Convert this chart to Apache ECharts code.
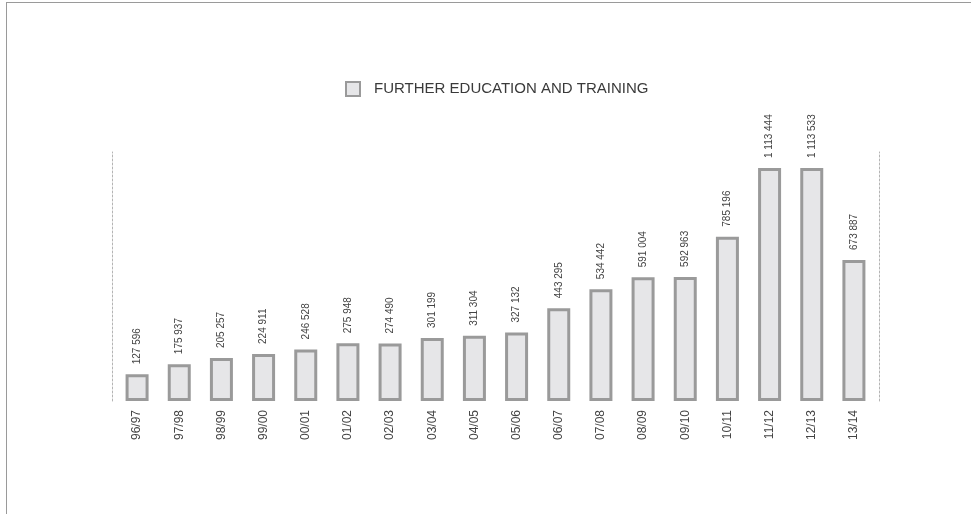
<!DOCTYPE html>
<html>
<head>
<meta charset="utf-8">
<script src="https://cdn.jsdelivr.net/npm/echarts@6/dist/echarts.min.js"></script>
<style>
  html, body { margin: 0; padding: 0; background: #fff; }
  .frame {
    position: absolute; left: 6px; top: 2px; right: 0; bottom: 0;
    border-left: 1px solid #9a9a9a; border-top: 1px solid #9a9a9a;
  }
  #chart { position: absolute; left: 0; top: 0; width: 971px; height: 514px; }
</style>
</head>
<body>
<div class="frame"></div>
<div id="chart"></div>
<script>
const seriesName = 'FURTHER EDUCATION AND TRAINING'
const years = ['96/97', '97/98', '98/99', '99/00', '00/01', '01/02', '02/03', '03/04', '04/05',
  '05/06', '06/07', '07/08', '08/09', '09/10', '10/11', '11/12', '12/13', '13/14']
const enrolments = [127596, 175937, 205257, 224911, 246528, 275948, 274490, 301199, 311304,
  327132, 443295, 534442, 591004, 592963, 785196, 1113444, 1113533, 673887]

// thousands with a space, like the source report
const fmt = v => String(v).replace(/\B(?=(\d{3})+(?!\d))/g, ' ')

const chart = echarts.init(document.getElementById('chart'))

const dotted = { show: true, lineStyle: { color: '#b4b4b4', type: [2, 2], width: 1 } }
const yMax = 1190000

chart.setOption({
  animation: false,
  grid: { top: 152, left: 116, right: 96, bottom: 113 },
  legend: {
    left: 345,
    top: 81,
    padding: 0,
    itemWidth: 14,
    itemHeight: 14,
    icon: 'rect',
    data: [seriesName],
    textStyle: {
      fontFamily: 'Liberation Sans, Arial, sans-serif',
      fontSize: 15,
      color: '#3a3a3a',
      padding: [0, 0, 0, 9],
    },
  },
  xAxis: {
    type: 'category',
    data: years,
    axisLine: { show: false },
    axisTick: { show: false },
    axisLabel: {
      rotate: 90,
      margin: 9,
      fontSize: 12,
      color: '#444',
      fontFamily: 'Liberation Sans, Arial, sans-serif',
    },
  },
  yAxis: [
    {
      type: 'value', min: 0, max: yMax, offset: 4,
      axisLine: dotted, axisTick: { show: false }, axisLabel: { show: false },
      splitLine: { show: false },
    },
    {
      type: 'value', min: 0, max: yMax, offset: 4, position: 'right',
      axisLine: dotted, axisTick: { show: false }, axisLabel: { show: false },
      splitLine: { show: false },
    },
  ],
  series: [
    {
      name: seriesName,
      type: 'bar',
      data: enrolments,
      barWidth: 23,
      itemStyle: { color: '#e6e6e8', borderColor: '#9a9a9a', borderWidth: 3 },
      label: {
        show: true,
        position: 'top',
        rotate: 90,
        align: 'left',
        verticalAlign: 'middle',
        distance: 10,
        fontSize: 10,
        color: '#444',
        fontFamily: 'Liberation Sans Narrow, Arial Narrow, Liberation Sans, sans-serif',
        formatter: p => fmt(p.value),
      },
    },
  ],
})
</script>
</body>
</html>
